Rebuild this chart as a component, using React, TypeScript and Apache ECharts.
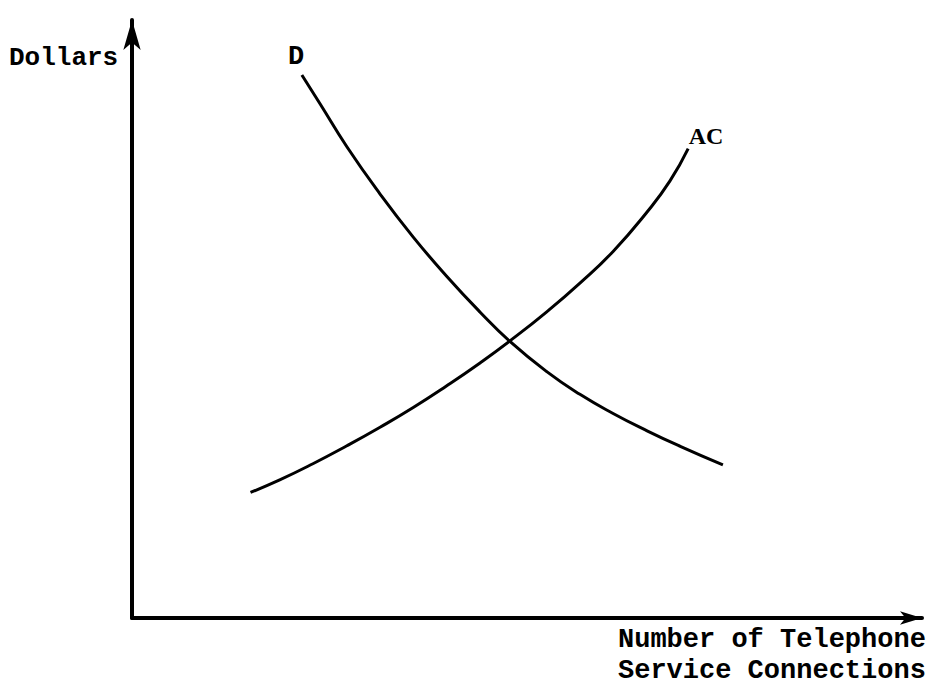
import React, { useEffect, useRef } from "react";
import * as echarts from "echarts";

// Demand curve D (x: quantity, y: dollars)
const dX = [21.5, 23.8, 27.2, 31.4, 35.6, 39.8, 44.1, 47.8, 52.5, 56.7, 60.9, 65.2, 69.4, 74.8];
const dY = [90.8, 86.0, 78.8, 70.9, 63.7, 57.2, 51.1, 46.3, 41.2, 37.4, 34.2, 31.3, 28.7, 25.6];

// Average cost curve AC
const acX = [15.0, 18.7, 22.9, 27.2, 31.4, 35.6, 39.8, 44.1, 47.8, 52.5, 56.7, 60.9, 65.2, 68.1, 70.4];
const acY = [21.0, 23.1, 25.8, 28.8, 31.9, 35.2, 38.8, 42.7, 46.3, 51.2, 56.0, 61.3, 67.9, 73.1, 78.5];

const yAxisName = "Dollars";
const xAxisNameLines = ["Number of Telephone", "Service Connections"];
const curveNames = ["D", "AC"];

const MONO = "'Liberation Mono', 'DejaVu Sans Mono', monospace";
const SERIF = "'Liberation Serif', 'DejaVu Serif', serif";

export default function App() {
  const ref = useRef<HTMLDivElement>(null);

  useEffect(() => {
    if (!ref.current) return;
    const chart = echarts.init(ref.current, undefined, { renderer: "svg" });
    const pair = (xs: number[], ys: number[]) => xs.map((x, i) => [x, ys[i]]);
    chart.setOption({
      animation: false,
      backgroundColor: "#ffffff",
      grid: { left: 132, top: 20, right: 17, bottom: 72 },
      xAxis: {
        type: "value",
        min: 0,
        max: 100,
        axisLine: {
          show: true,
          symbol: ["none", "arrow"],
          symbolSize: [10, 22],
          lineStyle: { color: "#000", width: 4 },
        },
        axisTick: { show: false },
        axisLabel: { show: false },
        splitLine: { show: false },
      },
      yAxis: {
        type: "value",
        min: 0,
        max: 100,
        axisLine: {
          show: true,
          symbol: ["none", "arrow"],
          symbolSize: [13, 30],
          lineStyle: { color: "#000", width: 4 },
        },
        axisTick: { show: false },
        axisLabel: { show: false },
        splitLine: { show: false },
      },
      series: [
        {
          name: curveNames[0],
          type: "line",
          data: pair(dX, dY),
          smooth: true,
          showSymbol: false,
          lineStyle: { color: "#000", width: 3 },
        },
        {
          name: curveNames[1],
          type: "line",
          data: pair(acX, acY),
          smooth: true,
          showSymbol: false,
          lineStyle: { color: "#000", width: 3 },
        },
      ],
      graphic: [
        {
          type: "text",
          left: 9,
          top: 45,
          style: { text: yAxisName, font: `bold 26px ${MONO}`, fill: "#000" },
        },
        {
          type: "text",
          x: 296,
          y: 57,
          style: {
            text: curveNames[0],
            font: `bold 27px ${MONO}`,
            fill: "#000",
            align: "center",
            verticalAlign: "middle",
          },
        },
        {
          type: "text",
          x: 706,
          y: 136,
          style: {
            text: curveNames[1],
            font: `bold 24px ${SERIF}`,
            fill: "#000",
            align: "center",
            verticalAlign: "middle",
          },
        },
        {
          type: "text",
          x: 618,
          y: 640,
          style: {
            text: xAxisNameLines[0],
            font: `bold 27px ${MONO}`,
            fill: "#000",
            align: "left",
            verticalAlign: "middle",
          },
        },
        {
          type: "text",
          x: 618,
          y: 671,
          style: {
            text: xAxisNameLines[1],
            font: `bold 27px ${MONO}`,
            fill: "#000",
            align: "left",
            verticalAlign: "middle",
          },
        },
      ],
    });
    return () => chart.dispose();
  }, []);

  return (
    <div
      ref={ref}
      style={{ position: "fixed", left: 0, top: 0, width: 939, height: 690 }}
    />
  );
}
